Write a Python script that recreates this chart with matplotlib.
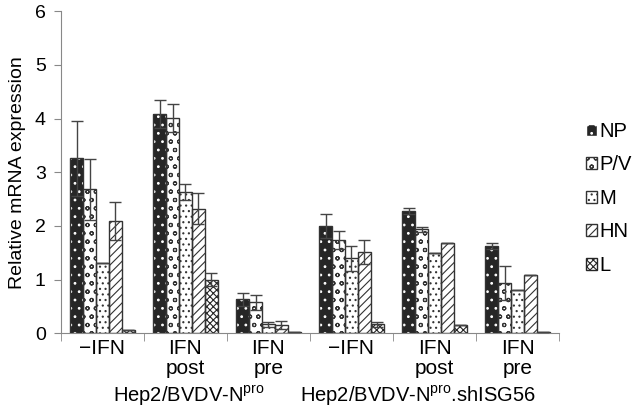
import numpy as np
import matplotlib
matplotlib.use('Agg')
from matplotlib import pyplot as plt
from matplotlib.patches import Patch

plt.rcParams['font.family'] = ['Liberation Sans', 'DejaVu Sans']
plt.rcParams['mathtext.fontset'] = 'custom'
plt.rcParams['mathtext.rm'] = 'Liberation Sans'
plt.rcParams['hatch.linewidth'] = 0.8

# data
conditions = ['\u2212IFN', 'IFN\npost', 'IFN\npre', '\u2212IFN', 'IFN\npost', 'IFN\npre']
genes = ['NP', 'P/V', 'M', 'HN', 'L']
cells = [r'Hep2/BVDV-N$^{\mathrm{pro}}$', r'Hep2/BVDV-N$^{\mathrm{pro}}$.shISG56']

np_vals = [3.26, 4.09, 0.64, 2.00, 2.28, 1.63]
pv_vals = [2.68, 4.01, 0.58, 1.74, 1.94, 0.94]
m_vals = [1.32, 2.63, 0.17, 1.40, 1.49, 0.80]
hn_vals = [2.09, 2.32, 0.16, 1.52, 1.68, 1.09]
l_vals = [0.06, 1.00, 0.02, 0.17, 0.15, 0.03]

np_err = [0.70, 0.26, 0.12, 0.22, 0.05, 0.06]
pv_err = [0.57, 0.26, 0.14, 0.16, 0.05, 0.31]
m_err = [0.0, 0.15, 0.05, 0.23, 0.0, 0.0]
hn_err = [0.35, 0.29, 0.08, 0.22, 0.0, 0.0]
l_err = [0.0, 0.12, 0.0, 0.05, 0.0, 0.0]

values = [np_vals, pv_vals, m_vals, hn_vals, l_vals]
errors = [np_err, pv_err, m_err, hn_err, l_err]
# (face, hatch colour, hatch)
styles = [('#262626', 'white', '..'),
          ('white', '#333333', 'oo'),
          ('white', '#333333', '...'),
          ('white', '#333333', '////'),
          ('white', '#262626', 'xxxxx')]

fig = plt.figure(figsize=(6.32, 4.09), dpi=100)
ax = fig.add_axes([0.0965, 0.1846, 0.788, 0.7885])

x = np.arange(len(conditions))
width = 0.155
handles = []
for i in range(len(genes)):
    pos = x + (i - 2) * width
    face, hcol, hatch = styles[i]
    ax.bar(pos, values[i], width, color=face, edgecolor=hcol, hatch=hatch,
           linewidth=0, zorder=2)
    ax.bar(pos, values[i], width, fill=False, edgecolor='#333333',
           linewidth=1.0, zorder=3)
    ax.errorbar(pos, values[i], yerr=errors[i], fmt='none', ecolor='#444444',
                elinewidth=1.0, capsize=4.3, capthick=1.0, zorder=4)
    handles.append(Patch(facecolor=face, edgecolor=hcol, hatch=hatch))

ax.set_xlim(-0.5, len(conditions) - 0.5)
ax.set_ylim(0, 6)
ax.set_yticks(range(0, 7))
ax.tick_params(axis='y', labelsize=14, length=5, color='#888888', pad=6)
ax.set_ylabel('Relative mRNA expression', fontsize=14, labelpad=6)

ax.set_xticks(x)
ax.set_xticklabels(conditions, fontsize=15, va='top')
for lbl in ax.get_xticklabels():
    lbl.set_linespacing(1.08)
ax.tick_params(axis='x', which='major', length=0, pad=4)
ax.set_xticks(np.arange(-0.5, len(conditions)), minor=True)
ax.tick_params(axis='x', which='minor', length=6, color='#888888')

for s in ['top', 'right']:
    ax.spines[s].set_visible(False)
for s in ['left', 'bottom']:
    ax.spines[s].set_color('#888888')

ax.text(1.04, -0.2124, cells[0], transform=ax.get_xaxis_transform(),
        ha='center', va='baseline', fontsize=14.5)
ax.text(3.8, -0.2124, cells[1], transform=ax.get_xaxis_transform(),
        ha='center', va='baseline', fontsize=14.5)

fig.legend(handles, genes, loc='center left', bbox_to_anchor=(0.927, 0.515),
           frameon=False, fontsize=14.5, handlelength=0.55, handleheight=0.55,
           handletextpad=0.1, labelspacing=0.72, borderpad=0, borderaxespad=0)

plt.savefig('out.png', dpi=100, facecolor='w')
